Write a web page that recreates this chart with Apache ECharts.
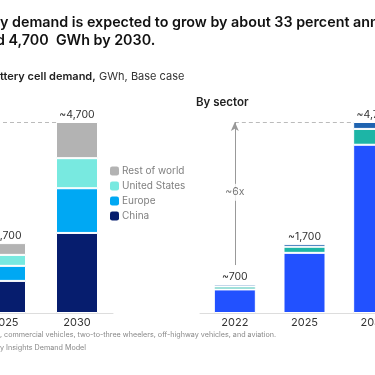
<!DOCTYPE html>
<html>
<head>
<meta charset="utf-8">
<script src="https://cdn.jsdelivr.net/npm/echarts@6/dist/echarts.min.js"></script>
<style>
  html, body { margin: 0; padding: 0; background: #fff; }
  #main { width: 375px; height: 375px; }
</style>
</head>
<body>
<div id="main"></div>
<script>
// years on both panels
const years = ['2022', '2025', '2030'];

// by region, GWh (2022 is outside the visible crop)
const china = [380, 790, 1970];
const europe = [150, 370, 1100];
const unitedStates = [80, 270, 740];
const restOfWorld = [90, 290, 890];

// by sector, GWh
const sectorMain = [580, 1480, 4140];
const sectorMid = [70, 150, 390];
const sectorTop = [50, 70, 170];

const totalLabels = ['~700', '~1,700', '~4,700'];
const arrowFrom = 1180;
const arrowLabelAt = 2970;
const topValue = 4700;

const FONT = 'Inter, "Liberation Sans", sans-serif';

const chart = echarts.init(document.getElementById('main'));

function stackBar(name, data, color, xi, withTotal) {
    return {
        name: name,
        type: 'bar',
        stack: 'g' + xi,
        xAxisIndex: xi,
        yAxisIndex: xi,
        barWidth: 42,
        data: data,
        itemStyle: { color: color, borderColor: '#fff', borderWidth: 1 },
        label: withTotal ? {
            show: true,
            position: 'top',
            distance: 2,
            color: '#333',
            fontSize: 10.5,
            fontFamily: FONT,
            formatter: function (p) { return totalLabels[p.dataIndex]; }
        } : { show: false },
        emphasis: { disabled: true }
    };
}

const dashed = { type: [4, 3], color: '#bbb', width: 1 };

chart.setOption({
    animation: false,
    textStyle: { fontFamily: FONT },
    grid: [
        { left: -103, top: 122, width: 216, height: 191, outerBoundsMode: 'none', containLabel: false },
        { left: 200, top: 122, width: 209, height: 191, outerBoundsMode: 'none', containLabel: false }
    ],
    xAxis: [0, 1].map(function (i) {
        return {
            type: 'category',
            gridIndex: i,
            data: years,
            axisTick: { show: false },
            axisLine: { lineStyle: { color: '#ddd', width: 1 } },
            axisLabel: { color: '#333', fontSize: 11, margin: 4 }
        };
    }),
    yAxis: [0, 1].map(function (i) {
        return { type: 'value', gridIndex: i, min: 0, max: topValue, show: false, splitLine: { show: false } };
    }),
    legend: {
        orient: 'vertical',
        left: 105,
        top: 161,
        itemWidth: 9,
        itemHeight: 9,
        itemGap: 5,
        itemStyle: { borderWidth: 0 },
        textStyle: { color: '#808080', fontSize: 10, padding: [0, 0, 0, -2] },
        data: ['Rest of world', 'United States', 'Europe', 'China'],
        selectedMode: false
    },
    series: [
        Object.assign(stackBar('China', china, '#061d6e', 0, false), {
            markLine: {
                silent: true, z: 1, symbol: 'none', label: { show: false },
                lineStyle: dashed,
                data: [[{ coord: ['2022', topValue] }, { coord: ['2030', topValue] }]]
            }
        }),
        stackBar('Europe', europe, '#00a8f3', 0, false),
        stackBar('United States', unitedStates, '#78e9e0', 0, false),
        stackBar('Rest of world', restOfWorld, '#b3b3b3', 0, true),

        Object.assign(stackBar('Passenger cars', sectorMain, '#2251ff', 1, false), {
            markLine: {
                silent: true, z: 1, label: { show: false },
                data: [
                    [{ coord: ['2022', topValue], symbol: 'none', lineStyle: dashed },
                     { coord: ['2030', topValue], symbol: 'none' }],
                    [{ coord: ['2022', arrowFrom], symbol: 'none', lineStyle: { type: 'solid', color: '#999', width: 1 } },
                     { coord: ['2022', topValue], symbol: 'arrow', symbolSize: [6, 9] }]
                ]
            }
        }),
        stackBar('Commercial vehicles', sectorMid, '#1db5a6', 1, false),
        stackBar('Other', sectorTop, '#1e63b0', 1, true),
        {
            type: 'scatter',
            xAxisIndex: 1,
            yAxisIndex: 1,
            symbolSize: 0,
            silent: true,
            z: 5,
            data: [['2022', arrowLabelAt]],
            label: {
                show: true,
                position: 'inside',
                formatter: '~6x',
                color: '#555',
                fontSize: 10.5,
                backgroundColor: '#fff',
                padding: [3, 1]
            }
        }
    ],
    graphic: [
        { type: 'text', left: 0, top: 16, style: { text: 'y demand is expected to grow by about 33 percent annually to', font: '600 14.3px ' + FONT, fill: '#111' } },
        { type: 'text', left: -4, top: 34, style: { text: 'd 4,700  GWh by 2030.', font: '600 14.3px ' + FONT, fill: '#111' } },
        {
            type: 'text', left: 0, top: 71,
            style: {
                text: '{b|ttery cell demand,} {r|GWh, Base case}',
                rich: {
                    b: { font: '600 11px ' + FONT, fill: '#222' },
                    r: { font: '400 11px ' + FONT, fill: '#333' }
                }
            }
        },
        { type: 'text', left: 196, top: 97, style: { text: 'By sector', font: '600 11.5px ' + FONT, fill: '#222' } },
        { type: 'text', left: 0, top: 331, style: { text: ', commercial vehicles, two-to-three wheelers, off-highway vehicles, and aviation.', font: '400 7.2px ' + FONT, fill: '#888' } },
        { type: 'text', left: 0, top: 344, style: { text: 'y Insights Demand Model', font: '400 7.2px ' + FONT, fill: '#888' } }
    ]
});
</script>
</body>
</html>
